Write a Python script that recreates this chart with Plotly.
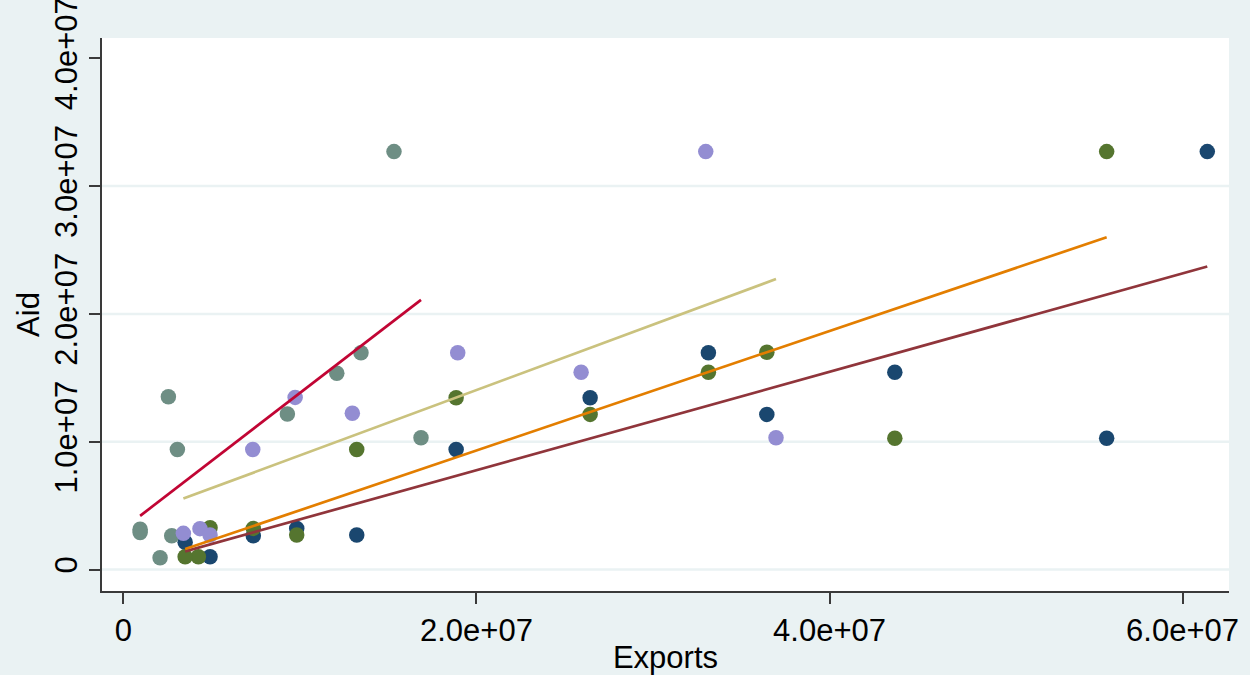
import plotly.graph_objects as go

# ---- data ----
navy_x = [61.4e6, 55.7e6, 43.7e6, 36.45e6, 33.14e6, 26.44e6, 18.85e6, 13.22e6, 9.82e6, 7.36e6, 4.91e6, 3.5e6]
navy_y = [32.7e6, 10.27e6, 15.43e6, 12.14e6, 16.96e6, 13.44e6, 9.4e6, 2.70e6, 3.22e6, 2.64e6, 1.0e6, 2.13e6]

green_x = [55.7e6, 43.7e6, 36.45e6, 33.14e6, 26.44e6, 18.85e6, 13.22e6, 9.82e6, 7.36e6, 4.91e6, 4.25e6, 3.5e6]
green_y = [32.7e6, 10.27e6, 17.0e6, 15.43e6, 12.14e6, 13.44e6, 9.4e6, 2.70e6, 3.22e6, 3.27e6, 1.0e6, 1.0e6]

teal_x = [15.33e6, 16.86e6, 13.46e6, 12.09e6, 9.29e6, 2.55e6, 3.06e6, 0.95e6, 0.95e6, 2.74e6, 2.08e6]
teal_y = [32.7e6, 10.31e6, 16.97e6, 15.35e6, 12.17e6, 13.52e6, 9.4e6, 3.15e6, 2.9e6, 2.64e6, 0.92e6]

lav_x = [32.99e6, 36.97e6, 18.94e6, 25.93e6, 9.73e6, 12.97e6, 7.33e6, 3.4e6, 4.34e6, 4.91e6]
lav_y = [32.7e6, 10.31e6, 16.97e6, 15.43e6, 13.47e6, 12.22e6, 9.4e6, 2.83e6, 3.2e6, 2.70e6]

# fitted lines (endpoints)
fit_navy_x = [3.5e6, 61.4e6]
fit_navy_y = [1.42e6, 23.71e6]
fit_green_x = [3.5e6, 55.7e6]
fit_green_y = [1.6e6, 26.0e6]
fit_teal_x = [0.95e6, 16.86e6]
fit_teal_y = [4.2e6, 21.1e6]
fit_lav_x = [3.4e6, 36.97e6]
fit_lav_y = [5.55e6, 22.73e6]

x_tickvals = [0, 2e7, 4e7, 6e7]
x_ticktext = ["0", "2.0e+07", "4.0e+07", "6.0e+07"]
y_tickvals = [0, 1e7, 2e7, 3e7, 4e7]
y_ticktext = ["0", "1.0e+07", "2.0e+07", "3.0e+07", "4.0e+07"]
grid_vals = [0, 1e7, 2e7, 3e7]

# ---- styling ----
BG = "#EAF2F3"
FONT = "Liberation Sans, Arial, sans-serif"
FS = 31
C_NAVY, C_GREEN, C_TEAL, C_LAV = "#1A476F", "#55752F", "#6E8E84", "#938DD2"
C_MAROON, C_ORANGE, C_CRAN, C_KHAKI = "#90353B", "#E37E00", "#C10534", "#CAC27E"

fig = go.Figure()
for xs, ys, c in [(navy_x, navy_y, C_NAVY), (green_x, green_y, C_GREEN),
                  (teal_x, teal_y, C_TEAL), (lav_x, lav_y, C_LAV)]:
    fig.add_trace(go.Scatter(x=xs, y=ys, mode="markers",
                             marker=dict(size=15.5, color=c, line=dict(width=0)),
                             showlegend=False))
for xs, ys, c in [(fit_navy_x, fit_navy_y, C_MAROON), (fit_green_x, fit_green_y, C_ORANGE),
                  (fit_teal_x, fit_teal_y, C_CRAN), (fit_lav_x, fit_lav_y, C_KHAKI)]:
    fig.add_trace(go.Scatter(x=xs, y=ys, mode="lines",
                             line=dict(color=c, width=2.7), showlegend=False))

for g in grid_vals:
    fig.add_shape(type="line", xref="paper", x0=0, x1=1, yref="y", y0=g, y1=g,
                  line=dict(color=BG, width=2.5), layer="below")

axis_common = dict(showgrid=False, zeroline=False, showline=True, linecolor="#3a3a3a",
                   linewidth=1.5, ticks="outside", ticklen=11, tickwidth=1.5,
                   tickcolor="#3a3a3a", automargin=False, ticklabeloverflow="allow",
                   tickfont=dict(family=FONT, size=FS, color="black"))

fig.update_layout(
    width=1250, height=675,
    margin=dict(l=102, r=21, t=38, b=84),
    paper_bgcolor=BG, plot_bgcolor="white",
    font=dict(family=FONT, size=FS, color="black"),
    xaxis=dict(range=[-1.21e6, 62.63e6], tickmode="array", tickvals=x_tickvals,
               ticktext=x_ticktext,
               title=dict(text="Exports", font=dict(family=FONT, size=FS, color="black"), standoff=2),
               **axis_common),
    yaxis=dict(range=[-1.68e6, 41.59e6], tickmode="array", tickvals=y_tickvals,
               ticktext=y_ticktext, tickangle=-90,
               title=dict(text="Aid", font=dict(family=FONT, size=FS, color="black"), standoff=0),
               **axis_common),
    showlegend=False,
)

fig.write_html("out.html")
